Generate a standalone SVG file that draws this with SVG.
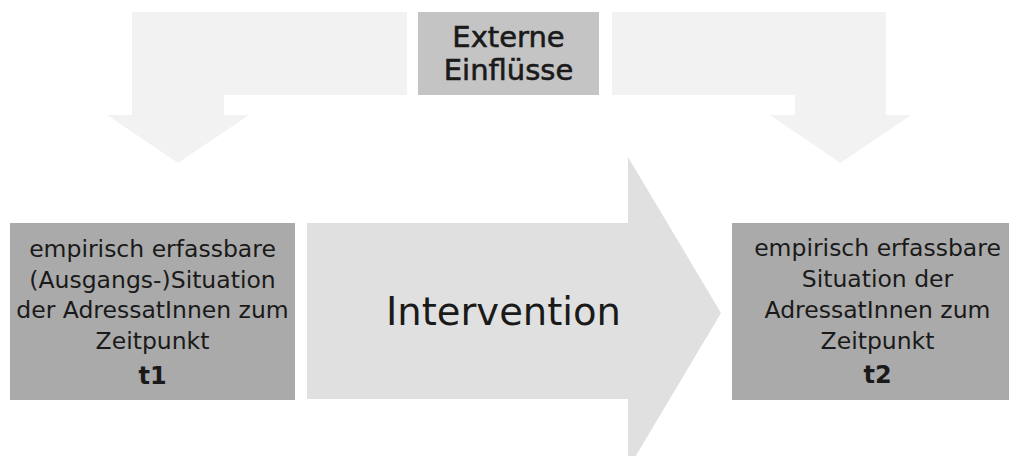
<svg xmlns="http://www.w3.org/2000/svg" width="1009" height="456" viewBox="0 0 1009 456">
<style>
.t{font-family:"DejaVu Sans","Liberation Sans",sans-serif;fill:#1a1a1a;text-anchor:middle}
.body{font-size:23.5px}
.big{font-size:24px;font-weight:bold}
.band{fill:#f2f2f2}
.box{fill:#aaaaaa}
</style>
<rect width="1009" height="456" fill="#ffffff"/>
<g id="connectors">
<path class="band" d="M132,12 H407 V95 H224 V115 H249 L178,163 L107,115 H132 Z"/>
<path class="band" d="M612,12 H886 V115 H911 L840.5,163 L770,115 H795 V95 H612 Z"/>
</g>
<g id="intervention">
<path fill="#e0e0e0" d="M307,223 H628 V157 L721,313 L628,469 V399 H307 Z"/>
<text class="t" x="503.5" y="325" font-size="38.5">Intervention</text>
</g>
<g id="externe">
<rect x="418" y="12" width="181" height="83" fill="#c4c4c4"/>
<text class="t" x="508.5" y="47" font-size="29" stroke="#1a1a1a" stroke-width="0.6">Externe</text>
<text class="t" x="508.5" y="80" font-size="29" stroke="#1a1a1a" stroke-width="0.6">Einflüsse</text>
</g>
<g id="t1">
<rect class="box" x="10" y="223" width="285" height="177"/>
<text class="t body" x="152.5" y="257">empirisch erfassbare</text>
<text class="t body" x="152.5" y="288">(Ausgangs-)Situation</text>
<text class="t body" x="152.5" y="318">der AdressatInnen zum</text>
<text class="t body" x="152.5" y="349">Zeitpunkt</text>
<text class="t big" x="152.5" y="384">t1</text>
</g>
<g id="t2">
<rect class="box" x="732" y="223" width="291" height="177"/>
<text class="t body" x="877.5" y="256">empirisch erfassbare</text>
<text class="t body" x="877.5" y="287">Situation der</text>
<text class="t body" x="877.5" y="318">AdressatInnen zum</text>
<text class="t body" x="877.5" y="349">Zeitpunkt</text>
<text class="t big" x="877.5" y="383">t2</text>
</g>
</svg>
